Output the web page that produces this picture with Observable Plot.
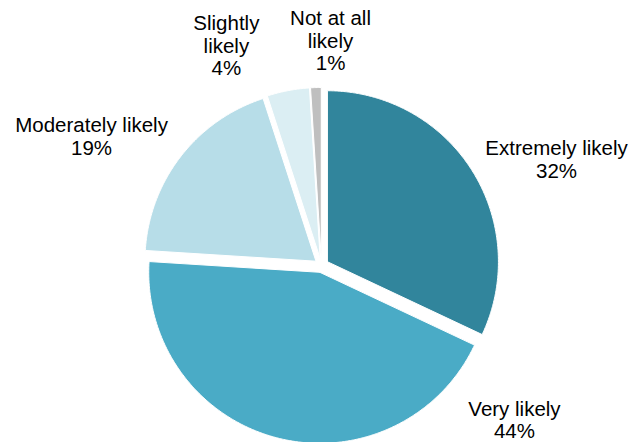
<!DOCTYPE html>
<html>
<head>
<meta charset="utf-8">
<script src="https://cdn.jsdelivr.net/npm/d3@7"></script>
<script src="https://cdn.jsdelivr.net/npm/@observablehq/plot@0.6"></script>
<style>
  html, body { margin: 0; padding: 0; background: #ffffff; }
  #chart { width: 629px; height: 442px; }
</style>
</head>
<body>
<div id="chart"></div>
<script>
// ---- data ----
const categories = ["Extremely likely", "Very likely", "Moderately likely", "Slightly likely", "Not at all likely"];
const labelTexts = ["Extremely likely", "Very likely", "Moderately likely", "Slightly\nlikely", "Not at all\nlikely"];
const shares = [32, 44, 19, 4, 1];
const colors = ["#31859c", "#4aabc6", "#b7dde8", "#dbeef3", "#bfbfbf"];

// ---- layout (label placement in polar terms: degrees clockwise from 12 o'clock, radius multiples) ----
const labelAngle = [65.7, 128.6, 299.3, 336.6, 2.3];
const labelDist = [1.508, 1.444, 1.542, 1.401, 1.317];
const explode = 0.041;

const W = 629, H = 442, cx = 321, cy = 265, R = 171;

const pie = d3.pie().sort(null).value(d => d)(shares);
const slicePts = [];
pie.forEach((p, i) => {
  const mid = (p.startAngle + p.endAngle) / 2;
  const ox = explode * Math.sin(mid), oy = explode * Math.cos(mid);
  slicePts.push({k: categories[i], x: ox, y: oy});
  const n = Math.max(4, Math.ceil((p.endAngle - p.startAngle) / (Math.PI / 360)));
  for (let j = 0; j <= n; j++) {
    const a = p.startAngle + (p.endAngle - p.startAngle) * j / n;
    slicePts.push({k: categories[i], x: ox + Math.sin(a), y: oy + Math.cos(a)});
  }
  slicePts.push({k: categories[i], x: ox, y: oy});
});

const labels = categories.map((c, i) => {
  const a = labelAngle[i] * Math.PI / 180;
  return {
    k: c,
    text: labelTexts[i] + "\n" + shares[i] + "%",
    x: labelDist[i] * Math.sin(a),
    y: labelDist[i] * Math.cos(a)
  };
});

const chart = Plot.plot({
  width: W,
  height: H,
  margin: 0,
  style: {background: "#ffffff", overflow: "visible"},
  x: {domain: [-cx / R, (W - cx) / R], axis: null},
  y: {domain: [-(H - cy) / R, cy / R], axis: null},
  color: {domain: categories, range: colors},
  marks: [
    Plot.line(slicePts, {x: "x", y: "y", z: "k", fill: "k", stroke: "white", strokeWidth: 1, curve: "linear"}),
    Plot.text(labels, {
      x: "x", y: "y", text: "text",
      fontSize: 20.5, lineHeight: 1.1,
      fontFamily: "Liberation Sans, Arial, sans-serif",
      fill: "#000000", textAnchor: "middle"
    })
  ]
});
document.getElementById("chart").appendChild(chart);
</script>
</body>
</html>
